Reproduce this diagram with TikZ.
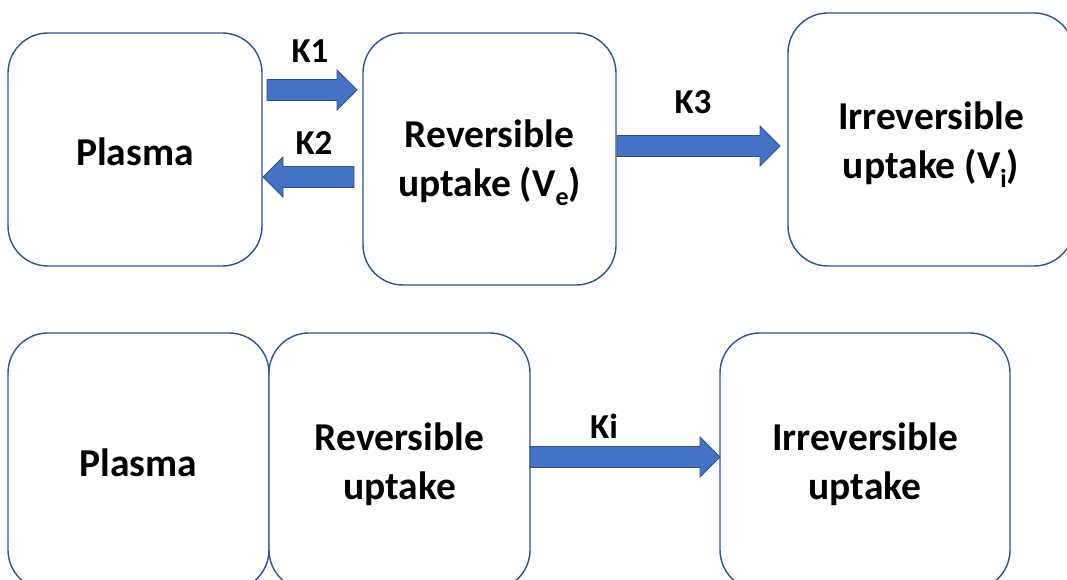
\documentclass[tikz,border=0pt]{standalone}
\usepackage{fontspec}
\setmainfont{Carlito}
\usetikzlibrary{calc}
\definecolor{outl}{HTML}{2F528F}
\definecolor{abl}{HTML}{4472C4}
\newcommand{\mysubs}[1]{\raisebox{-0.22em}{\fontsize{26}{26}\selectfont #1}}
\begin{document}
\begin{tikzpicture}[x=1pt,y=-1pt,
  box/.style={draw=outl, line width=1.4pt, rounded corners=40pt, fill=white, inner sep=0pt},
  txt/.style={align=center, font=\bfseries\fontsize{39.5}{49}\selectfont, inner sep=0pt},
  lab/.style={font=\bfseries\fontsize{35}{40}\selectfont, inner sep=0pt},
  blockarrow/.style={draw=outl, fill=abl, line width=0.8pt, line join=miter,
    to path={let \p1=(\tikztostart), \p2=(\tikztotarget),
      \p3=($(\tikztotarget)!20pt!(\tikztostart)$) in
      (\x1,\y1+10.5pt) -- (\x3,\y1+10.5pt) -- (\x3,\y1+20pt) -- (\x2,\y2)
      -- (\x3,\y1-20pt) -- (\x3,\y1-10.5pt) -- (\x1,\y1-10.5pt) -- cycle}}]
\useasboundingbox (0,0) rectangle (1067,580);
\clip (0,0) rectangle (1067,580);
\fill[white] (0,0) rectangle (1067,580);

% top row
\node[box, minimum width=254pt, minimum height=233pt] (plasmaT) at (135,149.5) {};
\node[box, minimum width=253pt, minimum height=252pt] (revT) at (489.5,159) {};
\node[box, minimum width=286pt, minimum height=253pt] (irrT) at (931,139.5) {};
\node[txt] (plasmaTt) at ([yshift=-2pt]plasmaT.center) {Plasma};
\node[txt] (revTt) at ([yshift=-4pt]revT.center) {Reversible\\uptake (V\mysubs{e})};
\node[txt] (irrTt) at ([yshift=-5pt]irrT.center) {Irreversible\\uptake (V\mysubs{i})};

% bottom row
\node[box, minimum width=261pt, minimum height=257pt] (plasmaB) at (138.5,461.5) {};
\node[box, minimum width=261pt, minimum height=257pt] (revB) at (399.5,461.5) {};
\node[box, minimum width=290pt, minimum height=257pt] (irrB) at (865,461.5) {};
\node[txt] (plasmaBt) at ([yshift=-1pt]plasmaB.center) {Plasma};
\node[txt] (revBt) at ([yshift=-3pt]revB.center) {Reversible\\uptake};
\node[txt] (irrBt) at ([yshift=-3pt]irrB.center) {Irreversible\\uptake};

% arrow end points
\coordinate (k1s) at (267,90);
\coordinate (k1e) at (357,90);
\coordinate (k2s) at (354,177);
\coordinate (k2e) at (263,177);
\coordinate (k3s) at (617,146);
\coordinate (k3e) at (780,146);
\coordinate (kis) at (530,457);
\coordinate (kie) at (720,457);

\path[blockarrow] (k1s) to (k1e);
\path[blockarrow] (k2s) to (k2e);
\path[blockarrow] (k3s) to (k3e);
\path[blockarrow] (kis) to (kie);

% labels
\node[lab] (lk1) at (310,51) {K1};
\node[lab] (lk2) at (314,143) {K2};
\node[lab] (lk3) at (693,102) {K3};
\node[lab] (lki) at (604,426) {Ki};
\end{tikzpicture}
\end{document}
